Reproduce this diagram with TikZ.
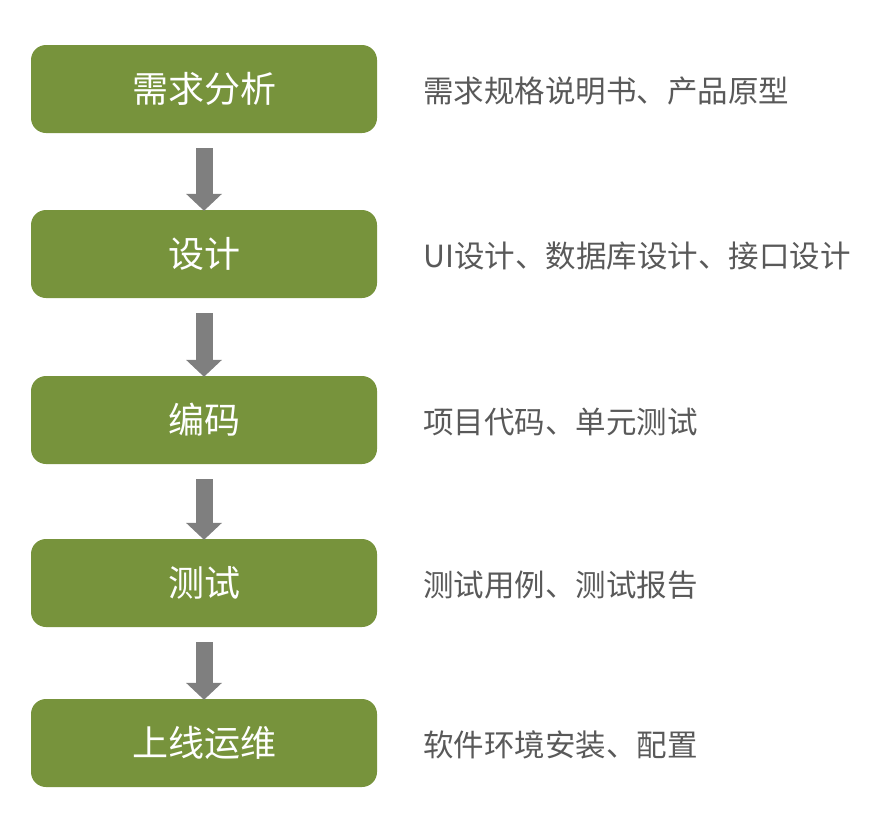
\documentclass[tikz,border=0pt]{standalone}
\usepackage{fontspec}
\newfontfamily\cjk{Noto Sans CJK SC}
\usetikzlibrary{arrows.meta}
\definecolor{boxgreen}{HTML}{77933C}
\definecolor{arrowgray}{HTML}{7F7F7F}
\definecolor{txtgray}{HTML}{595959}
\tikzset{
  stagebox/.style={fill=boxgreen, draw=none, rounded corners=15pt, minimum width=346pt, minimum height=88pt, inner sep=0pt, text=white, font=\cjk\fontsize{36}{40}\selectfont},
  desc/.style={anchor=west, inner sep=0pt, text=txtgray, font=\cjk\fontsize{30.5}{34}\selectfont},
  flow/.style={draw=arrowgray, line width=17pt, line cap=butt, -{Triangle[width=35pt,length=17pt]}, arrowgray, shorten <=15pt, shorten >=-1pt}
}
\begin{document}
\begin{tikzpicture}[x=1pt,y=1pt]
\useasboundingbox (0,0) rectangle (890,-838);
\node[stagebox] (s1) at (204,-89) {需求分析};
\node[stagebox] (s2) at (204,-254) {设计};
\node[stagebox] (s3) at (204,-420) {编码};
\node[stagebox] (s4) at (204,-583) {测试};
\node[stagebox] (s5) at (204,-743) {上线运维};
\node[desc] (d1) at (423,-91) {需求规格说明书、产品原型};
\node[desc] (d2) at (423,-256) {UI设计、数据库设计、接口设计};
\node[desc] (d3) at (423,-422) {项目代码、单元测试};
\node[desc] (d4) at (423,-585) {测试用例、测试报告};
\node[desc] (d5) at (423,-745) {软件环境安装、配置};
\draw[flow] (s1.south) -- (s2.north);
\draw[flow] (s2.south) -- (s3.north);
\draw[flow] (s3.south) -- (s4.north);
\draw[flow] (s4.south) -- (s5.north);
\end{tikzpicture}
\end{document}
